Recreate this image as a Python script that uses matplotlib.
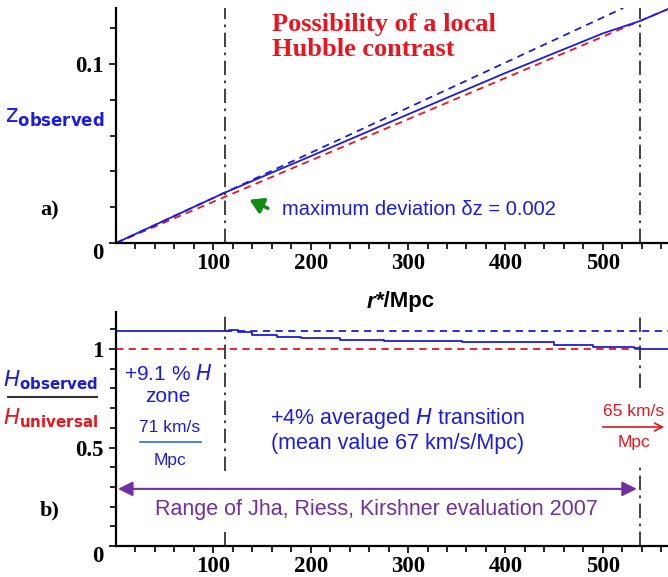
import matplotlib
matplotlib.use("Agg")
import matplotlib.pyplot as plt
from matplotlib.font_manager import FontProperties
from matplotlib.patches import FancyArrowPatch

plt.rcParams['mathtext.fontset'] = 'dejavusans'

# ---- data ----
# panel a: redshift vs distance
r_line = [0, 567]
z_universal = [0, 0.1307]          # red dashed, 65 km/s/Mpc
r_local = [0, 521]
z_local = [0, 0.1313]              # blue dashed, 71 km/s/Mpc
r_obs = [0, 112, 200, 300, 400, 500, 538, 567]
z_obs = [0, 0.0282, 0.0485, 0.0719, 0.0950, 0.1171, 0.1240, 0.1307]

# panel b: H ratio vs distance
h_r = [0, 112, 116, 125, 140, 165, 190, 230, 275, 355, 450, 490, 532, 538, 567]
h_obs = [1.091, 1.091, 1.095, 1.085, 1.071, 1.063, 1.055, 1.046, 1.040, 1.034,
         1.022, 1.012, 1.005, 1.0, 1.0]
h_dash_r = [112, 567]
h_dash = [1.091, 1.091]
h_univ_r = [0, 538]
h_univ = [1.0, 1.0]

zone_edges = [112, 538]
xticks = [100, 200, 300, 400, 500]

BLUE = '#1c1ce0'
RED = '#e8141e'
PURPLE = '#7030a0'
GREEN = '#138a13'
DASHDOT = (0, (8, 3, 1.5, 3))
W, H = 668, 577

def fx(x):
    return x / W

def fy(y):
    return 1 - y / H

fig = plt.figure(figsize=(W / 100, H / 100), dpi=100)
ax1 = fig.add_axes([fx(116), fy(243), 1 - fx(116), fy(8) - fy(243)])
ax2 = fig.add_axes([fx(116), fy(546), 1 - fx(116), fy(312) - fy(546)])

tickfont = FontProperties(family='Liberation Serif', weight='bold', size=16.5)

for ax in (ax1, ax2):
    ax.set_xlim(0, 567)
    for s in ('top', 'right'):
        ax.spines[s].set_visible(False)
    ax.spines['left'].set_linewidth(1.6)
    ax.spines['bottom'].set_linewidth(1.6)
    ax.set_xticks(xticks)
    ax.set_xticks(range(20, 567, 20), minor=True)
    ax.tick_params(which='both', direction='out', width=1.2)
    ax.tick_params(which='major', length=5, pad=4)
    ax.tick_params(which='minor', length=4)
    ax.tick_params(axis='x', which='major', pad=2)

# ---- panel a ----
ax1.set_ylim(0, 0.1313)
ax1.set_yticks([0, 0.1])
ax1.set_yticklabels(['0', '0.1'])
ax1.set_yticks([0.02, 0.04, 0.06, 0.08, 0.12], minor=True)
ax1.plot(r_line, z_universal, color=RED, lw=1.3, ls=(0, (4, 3)))
ax1.plot(r_local, z_local, color=BLUE, lw=1.3, ls=(0, (4, 3)))
ax1.plot(r_obs, z_obs, '-', color=BLUE, lw=1.3)
for xe in zone_edges:
    ax1.axvline(xe, color='#333333', lw=1.3, ls=DASHDOT)
ax1.annotate('', xy=(137, 0.0242), xytext=(156, 0.0194),
             arrowprops=dict(arrowstyle='-|>,head_length=0.5,head_width=0.3',
                             color=GREEN, lw=2.5, mutation_scale=16,
                             shrinkA=0, shrinkB=0))
ax1.text(170, 0.0185, 'maximum deviation \u03b4z = 0.002', color=BLUE,
         fontsize=14.5, family='Liberation Sans', va='center')

# ---- panel b ----
ax2.set_ylim(0, 1.188)
ax2.set_yticks([0, 0.5, 1])
ax2.set_yticklabels(['0', '0.5', '1'])
ax2.set_yticks([0.1, 0.2, 0.3, 0.4, 0.6, 0.7, 0.8, 0.9, 1.1], minor=True)
ax2.plot(h_univ_r, h_univ, color=RED, lw=1.3, ls=(0, (4, 3)))
ax2.plot(h_dash_r, h_dash, color=BLUE, lw=1.3, ls=(0, (4, 3)))
ax2.plot(h_r, h_obs, '-', color=BLUE, lw=1.3, drawstyle='steps-post')
dd = dict(color='#333333', lw=1.3, linestyles=[DASHDOT])
ax2.vlines(zone_edges[0], 0.38, 1.188, **dd)
ax2.vlines(zone_edges[0], 0, 0.07, **dd)
ax2.vlines(zone_edges[1], 0.80, 1.188, **dd)
ax2.vlines(zone_edges[1], 0, 0.40, **dd)
ax2.annotate('', xy=(2, 0.29), xytext=(535, 0.29),
             arrowprops=dict(arrowstyle='<|-|>', color=PURPLE, lw=1.5,
                             mutation_scale=22, shrinkA=0, shrinkB=0))

for ax in (ax1, ax2):
    for lab in ax.get_xticklabels() + ax.get_yticklabels():
        lab.set_fontproperties(tickfont)
    ax.get_yticklabels()[0].set_va('top')

# ---- text ----
fig.text(fx(272), fy(13), 'Possibility of a local\nHubble contrast', color=RED,
         family='Liberation Serif', weight='bold', fontsize=19, va='top',
         linespacing=1.12)
fig.text(fx(5), fy(117), r'$\mathsf{z}_{\mathbf{observed}}$', color=BLUE,
         fontsize=17, va='center', ha='left')
fig.text(fx(50), fy(210), 'a)', family='Liberation Serif', weight='bold',
         fontsize=16, ha='center', va='center')
fig.text(fx(50), fy(510), 'b)', family='Liberation Serif', weight='bold',
         fontsize=16, ha='center', va='center')
fig.text(fx(367), fy(302), 'r', family='Liberation Sans', weight='bold',
         style='italic', fontsize=16, ha='left', va='center')
fig.text(fx(376), fy(302), '*/Mpc', family='Liberation Sans', weight='bold',
         fontsize=16, ha='left', va='center')

fig.text(fx(51), fy(380), r'$\mathit{H}_{\mathbf{observed}}$', color=BLUE,
         fontsize=15.5, ha='center', va='center')
fig.add_artist(plt.Line2D([fx(8), fx(97)], [fy(397), fy(397)], color='#333333', lw=1.5))
fig.text(fx(51), fy(418), r'$\mathit{H}_{\mathbf{universal}}$', color=RED,
         fontsize=15.5, ha='center', va='center')

fig.text(fx(168), fy(385), '+9.1 % $\\mathit{H}$\nzone', color=BLUE,
         family='Liberation Sans', fontsize=15, ha='center', va='center',
         linespacing=1.15)
fig.text(fx(170), fy(427), '71 km/s', color=BLUE, family='Liberation Sans',
         fontsize=12.5, ha='center', va='center')
fig.add_artist(plt.Line2D([fx(140), fx(201)], [fy(442), fy(442)], color='#2a6fd0', lw=1.2))
fig.text(fx(170), fy(460), 'Mpc', color=BLUE, family='Liberation Sans',
         fontsize=12.5, ha='center', va='center')

fig.text(fx(398), fy(430), '+4% averaged $\\mathit{H}$ transition\n(mean value 67 km/s/Mpc)',
         color=BLUE, family='Liberation Sans', fontsize=15.5, ha='center',
         va='center', linespacing=1.1)

fig.text(fx(634), fy(411), '65 km/s', color=RED, family='Liberation Sans',
         fontsize=12.5, ha='center', va='center')
fig.add_artist(FancyArrowPatch((fx(600), fy(427)), (fx(667), fy(427)),
               transform=fig.transFigure, arrowstyle='->', color=RED, lw=1.2,
               mutation_scale=14))
fig.text(fx(634), fy(443), 'Mpc', color=RED, family='Liberation Sans',
         fontsize=12.5, ha='center', va='center')

fig.text(fx(376), fy(510), 'Range of Jha, Riess, Kirshner evaluation 2007',
         color=PURPLE, family='Liberation Sans', fontsize=15.5, ha='center',
         va='center')

fig.savefig('out.png', dpi=100)
